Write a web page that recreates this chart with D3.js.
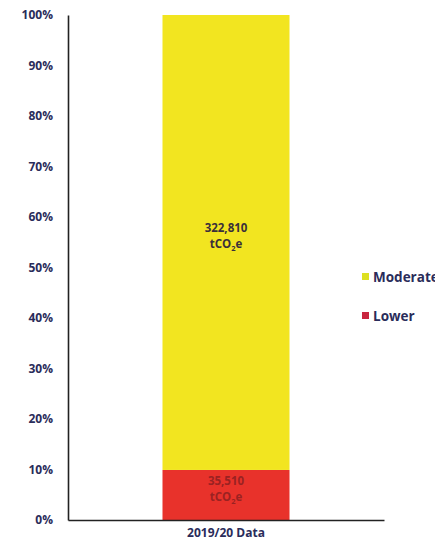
<!DOCTYPE html>
<html>
<head>
<meta charset="utf-8">
<script src="https://cdn.jsdelivr.net/npm/d3@7"></script>
<style>
  html, body { margin: 0; padding: 0; background: #fff; }
  svg text { font-family: "Open Sans", "DejaVu Sans", sans-serif; font-weight: 700; }
</style>
</head>
<body>
<svg id="chart" width="435" height="548"></svg>
<script>
// Emissions by risk band, 2019/20 (tCO2e)
const categories = ["2019/20 Data"];
const seriesNames = ["Lower", "Moderate"];
const lowerValues = [35510];
const moderateValues = [322810];
const seriesColors = ["#e8322b", "#f2e520"];
const legendColors = ["#c9253f", "#dde022"];
const yTicks = [0, 0.1, 0.2, 0.3, 0.4, 0.5, 0.6, 0.7, 0.8, 0.9, 1.0];

const svg = d3.select("#chart");
const plotLeft = 68, plotRight = 384, plotTop = 15, plotBottom = 520;

const x = d3.scaleBand().domain(categories).range([plotLeft, plotRight])
  .paddingInner(0).paddingOuter(0.744);
const y = d3.scaleLinear().domain([0, 1]).range([plotBottom, plotTop]);

// stack the two series as shares of each category total
const rows = categories.map((c, i) => ({ cat: c, Lower: lowerValues[i], Moderate: moderateValues[i] }));
const stack = d3.stack().keys(seriesNames).offset(d3.stackOffsetExpand);
const layers = stack(rows);

const colorOf = d3.scaleOrdinal().domain(seriesNames).range(seriesColors);

svg.append("g").selectAll("g").data(layers).join("g")
  .attr("fill", d => colorOf(d.key))
  .selectAll("rect").data(d => d).join("rect")
  .attr("x", d => x(d.data.cat))
  .attr("width", x.bandwidth())
  .attr("y", d => y(d[1]))
  .attr("height", d => y(d[0]) - y(d[1]));

// value labels inside each segment
const fmt = d3.format(",");
const labelColors = { Moderate: "#3a2f3a", Lower: "#9a2222" };
layers.forEach(layer => {
  layer.forEach(d => {
    const cx = x(d.data.cat) + x.bandwidth() / 2;
    const cy = (y(d[0]) + y(d[1])) / 2;
    const t = svg.append("text")
      .attr("x", cx).attr("text-anchor", "middle")
      .attr("font-size", 11.5)
      .attr("fill", labelColors[layer.key]);
    t.append("tspan").attr("x", cx).attr("y", cy - 10).text(fmt(d.data[layer.key]));
    const t2 = t.append("tspan").attr("x", cx).attr("y", cy + 6);
    t2.append("tspan").text("tCO");
    t2.append("tspan").attr("font-size", 7.5).attr("dy", 3).text("2");
    t2.append("tspan").attr("dy", -3).text("e");
  });
});

// y axis
const yAxis = d3.axisLeft(y).tickValues(yTicks).tickFormat(d3.format(".0%"))
  .tickSize(0).tickPadding(15);
const gy = svg.append("g").attr("transform", `translate(${plotLeft},0)`).call(yAxis);
gy.select(".domain").attr("stroke", "#222").attr("stroke-width", 1.6);
gy.selectAll("text").attr("font-size", 12).attr("fill", "#2a2c5a");

// x axis (baseline)
const xAxis = d3.axisBottom(x).tickSize(0).tickPadding(8);
const gx = svg.append("g").attr("transform", `translate(0,${plotBottom})`).call(xAxis);
gx.select(".domain").attr("stroke", "#222").attr("stroke-width", 1.6);
gx.selectAll("text").attr("font-size", 12).attr("fill", "#2a2c5a");

// legend
const legendItems = [
  { name: "Moderate", color: legendColors[1], y: 277 },
  { name: "Lower", color: legendColors[0], y: 316 }
];
const lg = svg.append("g").selectAll("g").data(legendItems).join("g")
  .attr("transform", d => `translate(362,${d.y})`);
lg.append("rect").attr("x", 0).attr("y", -4).attr("width", 7).attr("height", 7).attr("fill", d => d.color);
lg.append("text").attr("x", 11).attr("y", 4.5).attr("font-size", 13.5).attr("fill", "#2a2c5a").text(d => d.name);
</script>
</body>
</html>
